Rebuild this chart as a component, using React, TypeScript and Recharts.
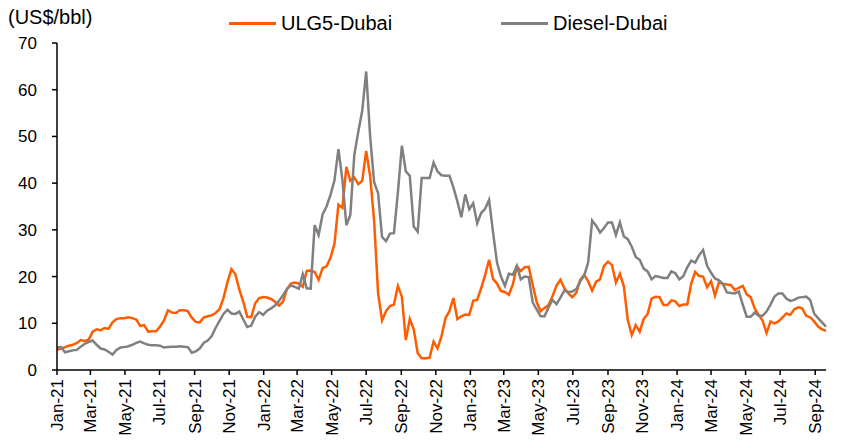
import React from "react";
import { LineChart, Line, XAxis, YAxis } from "recharts";

// Weekly spreads (US$/bbl), first week = 1 Jan 2021
const ulg5Dubai: number[] = [
  4.3, 4.6, 4.9, 5.2, 5.4, 5.8, 6.4, 6.2, 6.5, 8.2,
  8.7, 8.5, 9.0, 8.8, 10.2, 10.9, 11.1, 11.1, 11.3, 11.1,
  10.8, 9.4, 9.6, 8.2, 8.3, 8.3, 9.3, 10.6, 12.8, 12.3,
  12.2, 12.8, 12.8, 12.6, 11.2, 10.3, 10.2, 11.2, 11.5, 11.7,
  12.2, 13.0, 15.4, 18.8, 21.6, 20.5, 17.2, 14.6, 11.4, 11.3,
  14.3, 15.4, 15.6, 15.5, 15.2, 14.6, 13.8, 14.6, 17.3, 18.5,
  18.7, 18.5, 17.8, 21.2, 21.3, 21.0, 19.3, 21.8, 22.2, 24.0,
  27.0, 35.4, 34.7, 43.5, 40.5, 41.2, 39.8, 40.5, 46.9, 41.5,
  32.0, 16.5, 10.6, 12.6, 13.7, 14.0, 18.0, 15.7, 6.4, 10.9,
  8.7, 3.6, 2.5, 2.5, 2.6, 6.1, 4.6, 7.2, 11.1, 12.6,
  15.4, 10.9, 11.5, 11.9, 11.8, 14.8, 15.0, 17.5, 20.3, 23.6,
  19.5, 18.5, 16.9, 16.7, 16.1, 18.3, 22.2, 21.2, 22.0, 22.1,
  18.3, 14.6, 12.6, 13.3, 13.9, 15.8, 18.0, 19.3, 17.5, 16.4,
  15.6, 16.5, 19.3, 20.4, 19.0, 17.0, 18.9, 19.4, 22.3, 23.2,
  22.5, 18.7, 20.6, 17.9, 10.7, 7.5, 9.6, 8.2, 10.9, 12.0,
  15.3, 15.7, 15.6, 13.9, 13.9, 14.9, 14.7, 13.7, 14.0, 14.0,
  18.5, 21.0, 20.1, 20.0, 17.7, 19.0, 15.9, 18.8, 18.4, 18.3,
  18.2, 17.1, 17.6, 18.0, 16.2, 15.6, 13.2, 11.8, 10.6, 7.9,
  10.4, 10.0, 10.4, 11.2, 12.1, 11.8, 13.0, 13.4, 13.2, 11.6,
  11.3, 10.4, 9.3, 8.7, 8.4,
];

const dieselDubai: number[] = [
  4.8, 4.9, 3.8, 4.0, 4.2, 4.3, 5.0, 5.6, 6.0, 6.3,
  5.4, 4.6, 4.4, 3.9, 3.3, 4.3, 4.8, 4.9, 5.1, 5.4,
  5.8, 6.1, 5.7, 5.4, 5.3, 5.3, 5.2, 4.8, 4.9, 5.0,
  5.0, 5.1, 5.0, 4.9, 3.7, 4.0, 4.6, 5.8, 6.3, 7.2,
  9.0, 10.5, 12.0, 12.9, 12.1, 12.0, 12.5, 10.8, 9.2, 9.5,
  11.4, 12.4, 11.8, 12.7, 13.2, 13.8, 14.8, 16.0, 17.3, 18.1,
  17.8, 17.4, 20.5, 17.5, 17.4, 31.0, 28.9, 33.3, 35.0, 37.5,
  40.6, 47.3, 40.7, 31.0, 33.2, 46.0, 51.0, 55.5, 63.9, 50.0,
  40.2, 37.9, 28.5, 27.6, 29.2, 29.3, 38.0, 48.0, 42.5, 41.6,
  30.7, 29.6, 41.1, 41.1, 41.1, 44.4, 42.5, 41.7, 41.6, 41.6,
  39.1, 36.1, 32.7, 37.6, 34.4, 35.7, 31.4, 33.6, 34.5, 36.4,
  29.5, 23.0, 20.0, 18.0, 20.6, 20.4, 22.3, 19.4, 20.0, 19.9,
  14.5, 13.0, 11.5, 11.5, 13.4, 15.0, 14.1, 15.5, 17.0, 16.7,
  16.8, 17.3, 19.0, 20.2, 23.0, 32.0, 30.9, 29.4, 30.4, 31.6,
  31.6, 28.9, 31.6, 28.6, 28.0, 26.4, 24.2, 23.6, 21.7, 21.1,
  19.4, 20.1, 19.9, 19.7, 19.7, 21.1, 20.7, 19.4, 20.1, 22.0,
  23.4, 23.0, 24.6, 25.7, 22.3, 20.8, 19.6, 19.2, 18.4, 16.6,
  16.5, 16.4, 16.8, 14.0, 11.4, 11.4, 12.3, 11.6, 11.6, 12.5,
  14.0, 15.7, 16.4, 16.4, 15.3, 14.8, 15.0, 15.5, 15.6, 15.7,
  15.0, 12.1, 11.1, 10.2, 9.3,
];

const seriesNames = ["ULG5-Dubai", "Diesel-Dubai"];
const unitLabel = "(US$/bbl)";
const yTicks = [0, 10, 20, 30, 40, 50, 60, 70];
const xTickLabels = [
  "Jan-21", "Mar-21", "May-21", "Jul-21", "Sep-21", "Nov-21",
  "Jan-22", "Mar-22", "May-22", "Jul-22", "Sep-22", "Nov-22",
  "Jan-23", "Mar-23", "May-23", "Jul-23", "Sep-23", "Nov-23",
  "Jan-24", "Mar-24", "May-24", "Jul-24", "Sep-24",
];

const MONTHS = ["Jan","Feb","Mar","Apr","May","Jun","Jul","Aug","Sep","Oct","Nov","Dec"];
const DAY_MS = 86400000;
const START = Date.UTC(2021, 0, 1);
const labelToDay = (l: string) => {
  const [m, y] = l.split("-");
  return (Date.UTC(2000 + Number(y), MONTHS.indexOf(m), 1) - START) / DAY_MS;
};
const xTickDays = xTickLabels.map(labelToDay);
const dayToLabel: Record<number, string> = {};
xTickLabels.forEach((l, i) => (dayToLabel[xTickDays[i]] = l));

const rows = ulg5Dubai.map((v, i) => ({ day: i * 7, ulg: v, diesel: dieselDubai[i] }));
const lastDay = (ulg5Dubai.length - 1) * 7;

const ORANGE = "#FF5C00";
const GRAY = "#808080";
const FONT = "'Liberation Sans', Arial, sans-serif";

const XTick = (props: any) => {
  const { x, y, payload } = props;
  return (
    <g transform={`translate(${x},${y})`}>
      <text
        x={0}
        y={0}
        dy="0.35em"
        textAnchor="end"
        transform="rotate(-90)"
        fontSize={17}
        fontFamily={FONT}
        fill="#000"
      >
        {dayToLabel[payload.value]}
      </text>
    </g>
  );
};

export default function App() {
  return (
    <div style={{ position: "absolute", left: 0, top: 0, width: 853, height: 448, background: "#fff" }}>
      <LineChart
        width={853}
        height={448}
        data={rows}
        margin={{ top: 43, right: 27, bottom: 0, left: 0 }}
      >
        <XAxis
          dataKey="day"
          type="number"
          domain={[0, lastDay]}
          ticks={xTickDays}
          interval={0}
          tick={<XTick />}
          tickSize={5}
          tickMargin={4}
          height={78}
          axisLine={{ stroke: "#000", strokeWidth: 1.5 }}
          tickLine={{ stroke: "#000", strokeWidth: 1.5 }}
        />
        <YAxis
          domain={[0, 70]}
          ticks={yTicks}
          interval={0}
          width={57}
          tickSize={5}
          tickMargin={15}
          axisLine={{ stroke: "#000", strokeWidth: 1.5 }}
          tickLine={{ stroke: "#000", strokeWidth: 1.5 }}
          tick={{ fill: "#000", fontSize: 17, fontFamily: FONT }}
        />
        <Line
          type="linear"
          dataKey="ulg"
          name={seriesNames[0]}
          stroke={ORANGE}
          strokeWidth={2.5}
          dot={false}
          isAnimationActive={false}
        />
        <Line
          type="linear"
          dataKey="diesel"
          name={seriesNames[1]}
          stroke={GRAY}
          strokeWidth={2.5}
          dot={false}
          isAnimationActive={false}
        />
      </LineChart>
      <div style={{ position: "absolute", left: 8, top: 6, fontFamily: FONT, fontSize: 20, color: "#000", whiteSpace: "nowrap" }}>
        {unitLabel}
      </div>
      {[
        { name: seriesNames[0], color: ORANGE, left: 229 },
        { name: seriesNames[1], color: GRAY, left: 501 },
      ].map((it) => (
        <div
          key={it.name}
          style={{ position: "absolute", left: it.left, top: 11, height: 24, display: "flex", alignItems: "center", fontFamily: FONT, fontSize: 20, color: "#000", whiteSpace: "nowrap" }}
        >
          <span style={{ display: "inline-block", width: 47, height: 3, background: it.color, marginRight: 5 }} />
          {it.name}
        </div>
      ))}
    </div>
  );
}
